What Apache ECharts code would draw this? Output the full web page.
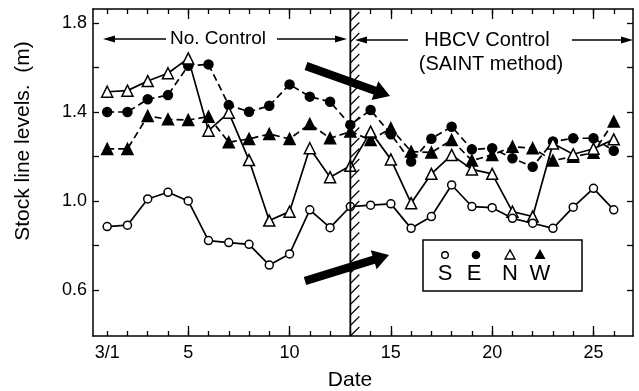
<!DOCTYPE html>
<html>
<head>
<meta charset="utf-8">
<script src="https://cdn.jsdelivr.net/npm/echarts@6/dist/echarts.min.js"></script>
<style>
  html, body { margin: 0; padding: 0; background: #fff; }
  #main { width: 639px; height: 391px; }
</style>
</head>
<body>
<div id="main"></div>
<script>
// dates in March (day of month)
const days = [1, 2, 3, 4, 5, 6, 7, 8, 9, 10, 11, 12, 13, 14, 15, 16, 17, 18, 19, 20, 21, 22, 23, 24, 25, 26]
// stock line levels (m) per probe
const levelS = [0.885, 0.891, 1.009, 1.039, 1.000, 0.822, 0.813, 0.805, 0.712, 0.762, 0.960, 0.880, 0.975,
  0.981, 0.987, 0.877, 0.930, 1.072, 0.975, 0.970, 0.922, 0.900, 0.877, 0.972, 1.057, 0.960]
const levelE = [1.400, 1.400, 1.457, 1.476, 1.608, 1.614, 1.431, 1.401, 1.428, 1.524, 1.469, 1.446, 1.342,
  1.409, 1.300, 1.177, 1.280, 1.334, 1.232, 1.237, 1.192, 1.154, 1.267, 1.282, 1.282, 1.226]
const levelN = [1.491, 1.496, 1.539, 1.574, 1.641, 1.316, 1.397, 1.184, 0.912, 0.952, 1.237, 1.107, 1.158,
  1.312, 1.187, 0.990, 1.122, 1.207, 1.142, 1.122, 0.952, 0.930, 1.258, 1.210, 1.235, 1.277]
const levelW = [1.234, 1.234, 1.382, 1.367, 1.364, 1.379, 1.264, 1.279, 1.301, 1.279, 1.346, 1.282, 1.312,
  1.274, 1.327, 1.222, 1.218, 1.274, 1.182, 1.207, 1.244, 1.237, 1.182, 1.199, 1.217, 1.357]

const xMajor = [5, 10, 15, 20, 25]
const xLabels = [1, 5, 10, 15, 20, 25]
const yTicks = [0.6, 0.8, 1.0, 1.2, 1.4, 1.6, 1.8]
const yLabels = [0.6, 1.0, 1.4, 1.8]
const controlDay = 13

const FONT = 'Liberation Sans, Arial, sans-serif'
const X_MIN = 0.3
const X_MAX = 26.95
const Y_MIN = 0.393
const Y_MAX = 1.863

const pairs = (vals) => days.map((d, i) => [d, vals[i]])

const lineSeries = (name, vals, symbol, filled, dashed, size) => ({
  name,
  type: 'line',
  data: pairs(vals),
  symbol,
  symbolSize: size,
  showSymbol: true,
  animation: false,
  lineStyle: { color: '#000', width: 1.7, type: dashed ? [7, 4] : 'solid' },
  itemStyle: { color: filled ? '#000' : '#fff', borderColor: '#000', borderWidth: 1.5, opacity: 1 },
  emphasis: { disabled: true },
  z: filled ? 3 : 4
})

const xAxisBase = (position, ticks, len, showLine) => ({
  type: 'value',
  position,
  min: X_MIN,
  max: X_MAX,
  splitLine: { show: false },
  axisLine: { show: showLine, onZero: false, lineStyle: { color: '#000', width: 1.5 } },
  axisTick: { show: true, inside: true, length: len, customValues: ticks, lineStyle: { color: '#000', width: 1.3 } },
  axisLabel: { show: false }
})

const bottomMain = xAxisBase('bottom', xMajor, 10, true)
bottomMain.axisLabel = {
  show: true,
  customValues: xLabels,
  formatter: (v) => (v === 1 ? '3/1' : String(v)),
  color: '#000',
  fontFamily: FONT,
  fontSize: 18,
  margin: 8
}

const yAxisBase = (position, showLabel) => ({
  type: 'value',
  position,
  min: Y_MIN,
  max: Y_MAX,
  splitLine: { show: false },
  axisLine: { show: true, onZero: false, lineStyle: { color: '#000', width: 1.5 } },
  axisTick: { show: true, inside: true, length: 6, customValues: yTicks, lineStyle: { color: '#000', width: 1.3 } },
  axisLabel: showLabel
    ? { show: true, customValues: yLabels, formatter: (v) => v.toFixed(1), color: '#000', fontFamily: FONT, fontSize: 18, margin: 6 }
    : { show: false }
})

const option = {
  backgroundColor: '#fff',
  animation: false,
  grid: { left: 93, right: 6, top: 9, bottom: 55, outerBoundsMode: 'none' },
  xAxis: [
    bottomMain,
    xAxisBase('bottom', days, 5, false),
    xAxisBase('top', xMajor, 10, true),
    xAxisBase('top', days, 5, false)
  ],
  yAxis: [yAxisBase('left', true), yAxisBase('right', false)],
  series: [
    lineSeries('W', levelW, 'triangle', true, true, 11),
    lineSeries('E', levelE, 'circle', true, true, 9),
    lineSeries('N', levelN, 'triangle', false, false, 11),
    lineSeries('S', levelS, 'circle', false, false, 8)
  ]
}

const chart = echarts.init(document.getElementById('main'))
chart.setOption(option)

// thick arrow polygon from tail to tip
function fatArrow (x1, y1, x2, y2, bodyHalf, headLen, headHalf) {
  const dx = x2 - x1
  const dy = y2 - y1
  const len = Math.sqrt(dx * dx + dy * dy)
  const ux = dx / len
  const uy = dy / len
  const nx = -uy
  const ny = ux
  const bx = x2 - ux * headLen
  const by = y2 - uy * headLen
  return [
    [x1 + nx * bodyHalf, y1 + ny * bodyHalf],
    [bx + nx * bodyHalf, by + ny * bodyHalf],
    [bx + nx * headHalf, by + ny * headHalf],
    [x2, y2],
    [bx - nx * headHalf, by - ny * headHalf],
    [bx - nx * bodyHalf, by - ny * bodyHalf],
    [x1 - nx * bodyHalf, y1 - ny * bodyHalf]
  ]
}

// thin horizontal arrow: line + head
function thinArrow (xFrom, xTip, y) {
  const dir = xTip > xFrom ? 1 : -1
  return [
    { type: 'line', shape: { x1: xFrom, y1: y, x2: xTip - dir * 8, y2: y }, style: { stroke: '#000', lineWidth: 1.6 }, z: 100 },
    { type: 'polygon', shape: { points: [[xTip, y], [xTip - dir * 12, y - 3.5], [xTip - dir * 12, y + 3.5]] }, style: { fill: '#000' }, z: 100 }
  ]
}

const text = (str, x, y, size, extra) => Object.assign({
  type: 'text',
  x,
  y,
  z: 100,
  style: {
    text: str,
    fill: '#000',
    font: size + 'px ' + FONT,
    align: 'center',
    verticalAlign: 'middle',
    textAlign: 'center',
    textVerticalAlign: 'middle'
  }
}, extra || {})

const xc = chart.convertToPixel({ xAxisIndex: 0 }, controlDay)
const yTop = chart.convertToPixel({ yAxisIndex: 0 }, Y_MAX)
const yBot = chart.convertToPixel({ yAxisIndex: 0 }, Y_MIN)

const graphics = []
// control start line with hatching
graphics.push({ type: 'line', shape: { x1: xc, y1: yTop, x2: xc, y2: yBot }, style: { stroke: '#000', lineWidth: 1.8 }, z: 90 })
for (let y = yTop + 12; y < yBot + 2; y += 10.5) {
  graphics.push({ type: 'line', shape: { x1: xc, y1: y, x2: xc + 9, y2: y - 9 }, style: { stroke: '#000', lineWidth: 1.1 }, z: 90 })
}

// big arrows
graphics.push({ type: 'polygon', shape: { points: fatArrow(306, 66, 390, 96, 4.2, 16, 10) }, style: { fill: '#000' }, z: 101 })
graphics.push({ type: 'polygon', shape: { points: fatArrow(305, 281, 389, 255, 4.2, 16, 10) }, style: { fill: '#000' }, z: 101 })

// period headers
graphics.push(text('No. Control', 218, 39, 19))
graphics.push(...thinArrow(166, 103, 39))
graphics.push(...thinArrow(277, 347, 39))
graphics.push(text('HBCV Control', 487, 40, 20))
graphics.push(text('(SAINT method)', 491, 64, 20))
graphics.push(...thinArrow(408, 355, 40))
graphics.push(...thinArrow(572, 633, 40))

// axis names
graphics.push(text('Stock line levels.  (m)', 23, 141, 21, { rotation: Math.PI / 2 }))
graphics.push(text('Date', 350, 380, 21))

// legend box
graphics.push({ type: 'rect', shape: { x: 423, y: 240, width: 159, height: 51 }, style: { fill: '#fff', stroke: '#000', lineWidth: 1.5 }, z: 100 })
graphics.push({ type: 'circle', shape: { cx: 445, cy: 255, r: 3.3 }, style: { fill: '#fff', stroke: '#000', lineWidth: 1.4 }, z: 101 })
graphics.push({ type: 'circle', shape: { cx: 476, cy: 255, r: 4.3 }, style: { fill: '#000' }, z: 101 })
graphics.push({ type: 'polygon', shape: { points: [[510, 250], [505, 259], [515, 259]] }, style: { fill: '#fff', stroke: '#000', lineWidth: 1.4 }, z: 101 })
graphics.push({ type: 'polygon', shape: { points: [[540, 249], [534.5, 259], [545.5, 259]] }, style: { fill: '#000' }, z: 101 })
graphics.push(text('S', 445, 274, 22))
graphics.push(text('E', 474, 274, 22))
graphics.push(text('N', 510, 274, 22))
graphics.push(text('W', 540, 274, 22))

chart.setOption({ graphic: graphics })
</script>
</body>
</html>
